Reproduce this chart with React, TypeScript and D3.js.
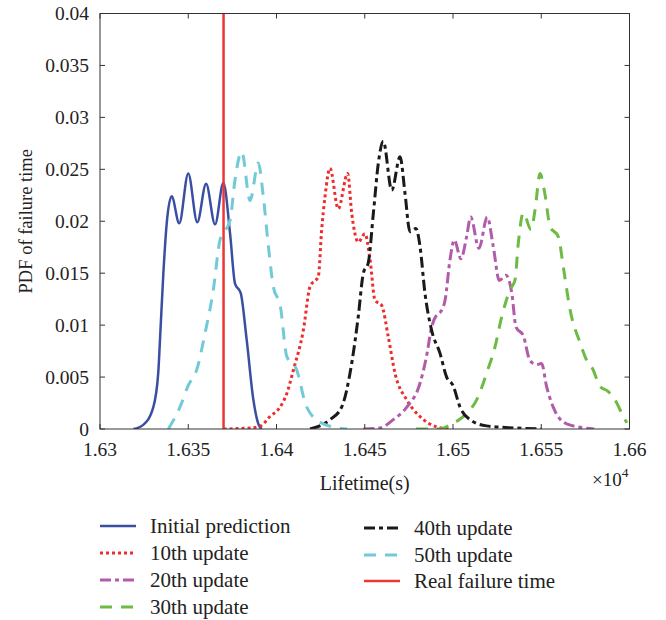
import React from "react";
import * as d3 from "d3";

type P = [number, number];

const xTicks = [1.63, 1.635, 1.64, 1.645, 1.65, 1.655, 1.66];
const yTicks = [0, 0.005, 0.01, 0.015, 0.02, 0.025, 0.03, 0.035, 0.04];
const xTickLabels = ["1.63", "1.635", "1.64", "1.645", "1.65", "1.655", "1.66"];
const yTickLabels = ["0", "0.005", "0.01", "0.015", "0.02", "0.025", "0.03", "0.035", "0.04"];

const realFailureTime = 1.637;

const initialPrediction: P[] = [
  [1.6319, 0], [1.63245, 0.0004], [1.63302, 0.0021], [1.6333, 0.0054], [1.6334, 0.0086],
  [1.63359, 0.015], [1.63378, 0.0198], [1.63406, 0.0224], [1.63449, 0.0198], [1.635, 0.0246],
  [1.63551, 0.0199], [1.63601, 0.0236], [1.63652, 0.0197], [1.63699, 0.0237], [1.63737, 0.0188],
  [1.63765, 0.014], [1.63797, 0.0131], [1.63831, 0.0086], [1.63869, 0.0028], [1.63897, 0.0005],
  [1.63916, 0],
];

const update10: P[] = [
  [1.637, 0], [1.6385, 0.0001], [1.6391, 0.0003], [1.63963, 0.0012], [1.6402, 0.0021],
  [1.64058, 0.0034], [1.64096, 0.0057], [1.64152, 0.0095], [1.6419, 0.0137], [1.64237, 0.0147],
  [1.64256, 0.0192], [1.64275, 0.0224], [1.64303, 0.0251], [1.6435, 0.0212], [1.64403, 0.0246],
  [1.64426, 0.0208], [1.64463, 0.018], [1.64501, 0.0188], [1.6453, 0.0163], [1.64558, 0.0124],
  [1.64596, 0.0119], [1.64633, 0.0089], [1.64671, 0.0054], [1.64738, 0.0028], [1.64813, 0.0012],
  [1.64908, 0.0002], [1.6499, 0],
];

const update20: P[] = [
  [1.64492, 0], [1.64587, 0.0001], [1.64662, 0.0009], [1.64738, 0.0021], [1.64813, 0.0044],
  [1.6485, 0.007], [1.64879, 0.0098], [1.64908, 0.011], [1.64926, 0.0112], [1.64955, 0.0124],
  [1.64983, 0.0163], [1.65007, 0.0182], [1.65045, 0.0164], [1.65077, 0.0185], [1.651, 0.0204],
  [1.65147, 0.0174], [1.65194, 0.0204], [1.65228, 0.0176], [1.65262, 0.0143], [1.653, 0.0148],
  [1.65333, 0.0131], [1.65357, 0.0098], [1.65398, 0.009], [1.65436, 0.0066], [1.65474, 0.0062],
  [1.65502, 0.0063], [1.6553, 0.0041], [1.65568, 0.0021], [1.65644, 0.0005], [1.658, 0],
];

const update30: P[] = [
  [1.6479, 0], [1.64926, 0], [1.64983, 0.0004], [1.65077, 0.0015], [1.65134, 0.0028],
  [1.65191, 0.0054], [1.65238, 0.0079], [1.65276, 0.0108], [1.65323, 0.0134], [1.65351, 0.0143],
  [1.6537, 0.0179], [1.65398, 0.0208], [1.65442, 0.0192], [1.65465, 0.0211], [1.65493, 0.0246],
  [1.6552, 0.0227], [1.6555, 0.0195], [1.65597, 0.0185], [1.65625, 0.0156], [1.65663, 0.0115],
  [1.6572, 0.0083], [1.65758, 0.0066], [1.65791, 0.0058], [1.65833, 0.0041], [1.6588, 0.0036],
  [1.65918, 0.0028], [1.65965, 0.0012], [1.65985, 0.0006],
];

const update40: P[] = [
  [1.6419, 0], [1.64303, 0.0009], [1.64369, 0.0021], [1.64426, 0.0063], [1.64463, 0.0108],
  [1.64492, 0.015], [1.6452, 0.016], [1.64549, 0.0208], [1.64577, 0.0256], [1.64605, 0.0277],
  [1.64653, 0.023], [1.647, 0.0262], [1.64728, 0.0227], [1.64756, 0.019], [1.6479, 0.0193],
  [1.64813, 0.0176], [1.64841, 0.0131], [1.64879, 0.0095], [1.64926, 0.0073], [1.64964, 0.005],
  [1.65, 0.0042], [1.6504, 0.0021], [1.65096, 0.0009], [1.6519, 0.0003], [1.6535, 0.0001],
  [1.655, 0],
];

const update50: P[] = [
  [1.63387, 0], [1.63453, 0.0021], [1.635, 0.0042], [1.63548, 0.0057], [1.63595, 0.0092],
  [1.63642, 0.0134], [1.6368, 0.0182], [1.63737, 0.0201], [1.63765, 0.024], [1.63803, 0.0267],
  [1.6385, 0.022], [1.63897, 0.0256], [1.63925, 0.0224], [1.63954, 0.0176], [1.63982, 0.0137],
  [1.64022, 0.0118], [1.64058, 0.007], [1.64114, 0.0057], [1.64171, 0.0021], [1.64265, 0.0005],
  [1.644, 0],
];

const legendLabels = [
  "Initial prediction", "10th update", "20th update", "30th update",
  "40th update", "50th update", "Real failure time",
];

const FONT = "'Liberation Serif', 'Times New Roman', serif";

export default function App() {
  const left = 100, right = 629.5, top = 13.5, bottom = 429;
  const x = d3.scaleLinear().domain([1.63, 1.66]).range([left, right]);
  const y = d3.scaleLinear().domain([0, 0.04]).range([bottom, top]);
  const line = d3.line<P>().x(d => x(d[0])).y(d => y(d[1])).curve(d3.curveMonotoneX);

  const series = [
    { data: initialPrediction, color: "#3a4ea2", dash: "", w: 2.5 },
    { data: update10, color: "#ee2c2c", dash: "3,3", w: 3 },
    { data: update20, color: "#b15ba9", dash: "11,4,4,4", w: 3 },
    { data: update30, color: "#6dbb45", dash: "12,9", w: 3 },
    { data: update40, color: "#1a1a1a", dash: "11,4,4,4", w: 3 },
    { data: update50, color: "#73cad7", dash: "12,9", w: 3 },
  ];
  const realColor = "#ee3535";

  const legendPos = [
    { lx: 100, ly: 526 }, { lx: 100, ly: 553 }, { lx: 100, ly: 580 }, { lx: 100, ly: 607 },
    { lx: 364, ly: 528 }, { lx: 364, ly: 555 }, { lx: 364, ly: 581 },
  ];
  const legendStyles = [
    ...series.map(s => ({ color: s.color, dash: s.dash, w: s.w })),
    { color: realColor, dash: "", w: 2.5 },
  ];

  const axisColor = "#333";
  const tickFs = 19.5;

  return (
    <svg width={666} height={620} style={{ position: "absolute", left: 0, top: 0, background: "#fff" }}>
      <rect x={0} y={0} width={666} height={620} fill="#fff" />
      <defs>
        <clipPath id="plotclip">
          <rect x={left} y={top - 2} width={right - left} height={bottom - top + 2} />
        </clipPath>
      </defs>
      <g clipPath="url(#plotclip)">
        {series.map((s, i) => (
          <path key={i} d={line(s.data) || ""} fill="none" stroke={s.color}
            strokeWidth={s.w} strokeDasharray={s.dash || undefined} strokeLinejoin="round" />
        ))}
        <line x1={x(realFailureTime)} x2={x(realFailureTime)} y1={y(0)} y2={y(0.04)}
          stroke={realColor} strokeWidth={2.5} />
      </g>
      <rect x={left} y={top} width={right - left} height={bottom - top} fill="none" stroke={axisColor} strokeWidth={1} />
      {xTicks.map((t, i) => (
        <g key={"xt" + i}>
          <line x1={x(t)} x2={x(t)} y1={bottom} y2={bottom - 5} stroke={axisColor} />
          <line x1={x(t)} x2={x(t)} y1={top} y2={top + 5} stroke={axisColor} />
          <text x={x(t)} y={bottom + 27} textAnchor="middle" fontFamily={FONT} fontSize={tickFs} fill="#222">
            {xTickLabels[i]}
          </text>
        </g>
      ))}
      {yTicks.map((t, i) => (
        <g key={"yt" + i}>
          <line x1={left} x2={left + 5} y1={y(t)} y2={y(t)} stroke={axisColor} />
          <line x1={right} x2={right - 5} y1={y(t)} y2={y(t)} stroke={axisColor} />
          <text x={left - 11} y={y(t) + 6.5} textAnchor="end" fontFamily={FONT} fontSize={tickFs} fill="#222">
            {yTickLabels[i]}
          </text>
        </g>
      ))}
      <text x={(left + right) / 2} y={490} textAnchor="middle" fontFamily={FONT} fontSize={20} fill="#222">
        Lifetime(s)
      </text>
      <text x={592} y={486} fontFamily={FONT} fontSize={19} fill="#222">
        ×10<tspan dy={-9} fontSize={13.5}>4</tspan>
      </text>
      <text transform={`translate(32,${(top + bottom) / 2}) rotate(-90)`} textAnchor="middle"
        fontFamily={FONT} fontSize={18.5} fill="#222">
        PDF of failure time
      </text>
      {legendLabels.map((lab, i) => {
        const p = legendPos[i];
        const s = legendStyles[i];
        return (
          <g key={"lg" + i}>
            <line x1={p.lx} x2={p.lx + 36} y1={p.ly} y2={p.ly} stroke={s.color} strokeWidth={s.w}
              strokeDasharray={s.dash || undefined} />
            <text x={p.lx + 50} y={p.ly + 6.5} fontFamily={FONT} fontSize={21} fill="#222">{lab}</text>
          </g>
        );
      })}
    </svg>
  );
}
